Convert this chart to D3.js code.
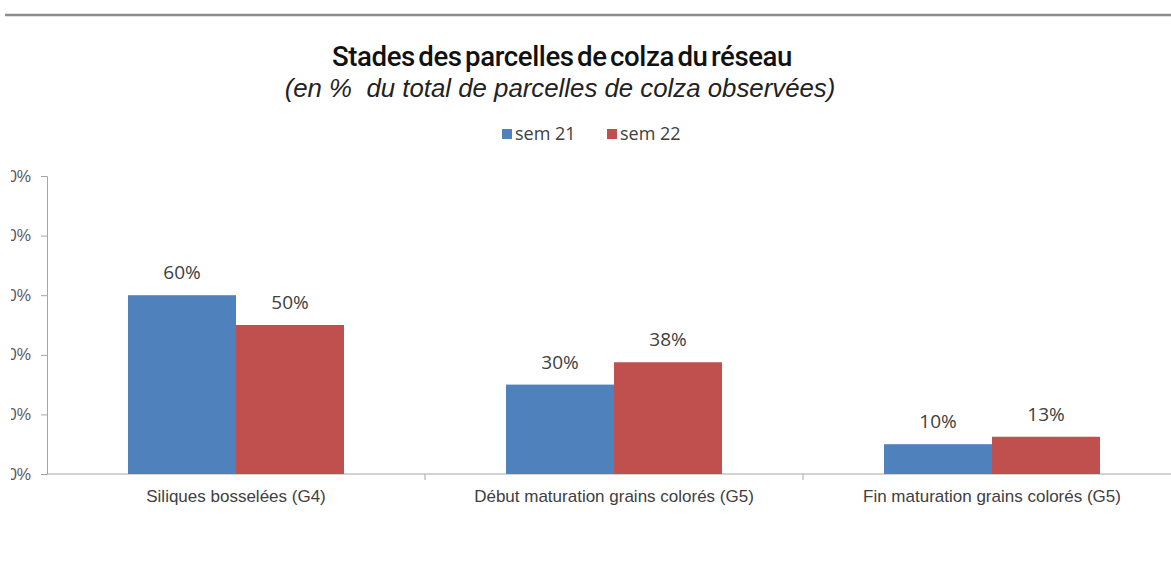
<!DOCTYPE html>
<html>
<head>
<meta charset="utf-8">
<script src="https://cdn.jsdelivr.net/npm/d3@7"></script>
<style>
  body { margin: 0; background: #fff; }
  svg { display: block; }
</style>
</head>
<body>
<div id="chart"></div>
<script>
// data
var categories = ["Siliques bosselées (G4)", "Début maturation grains colorés (G5)", "Fin maturation grains colorés (G5)"];
var seriesNames = ["sem 21", "sem 22"];
var sem21 = [60, 30, 10];
var sem22 = [50, 37.5, 12.5];
var yTicks = [0, 20, 40, 60, 80, 100];
var colors = ["#4F81BD", "#C0504D"];

function main(){
    var canvasWidth = 1171;
    var canvasHeight = 570;

    var svg = d3.select("#chart").append("svg")
        .attr("width", canvasWidth)
        .attr("height", canvasHeight);

    // rule at the top of the page
    svg.append("line")
        .attr("x1", 5).attr("x2", canvasWidth)
        .attr("y1", 15).attr("y2", 15)
        .attr("stroke", "#8c8c8c")
        .attr("stroke-width", 2.5);

    // titles
    svg.append("text")
        .attr("x", 562).attr("y", 66)
        .attr("text-anchor", "middle")
        .attr("font-family", "Roboto")
        .attr("font-weight", 500)
        .attr("font-size", "27.6px")
        .attr("letter-spacing", "-0.4px")
        .attr("word-spacing", "-3px")
        .attr("fill", "#111")
        .text("Stades des parcelles de colza du réseau");

    svg.append("text")
        .attr("x", 560).attr("y", 97)
        .attr("text-anchor", "middle")
        .attr("font-family", "Liberation Sans")
        .attr("font-style", "italic")
        .attr("font-size", "25.8px")
        .attr("fill", "#222")
        .attr("xml:space", "preserve")
        .text("(en %  du total de parcelles de colza observées)");

    var x0 = d3.scaleBand().domain(categories).range([47, 1181])
        .paddingInner(0.4286).paddingOuter(0.2143);
    var x1 = d3.scaleBand().domain(seriesNames).range([0, x0.bandwidth()]);
    var y = d3.scaleLinear().domain([0, 100]).range([474, 176]);

    var rows = categories.map(function(c, i){
        return { cat: c, vals: [sem21[i], sem22[i]] };
    });

    // y axis, labels clipped on the left like the original
    svg.append("clipPath").attr("id", "leftclip")
        .append("rect").attr("x", 11).attr("y", 0).attr("width", canvasWidth).attr("height", canvasHeight);

    var yAxis = svg.append("g")
        .attr("clip-path", "url(#leftclip)")
        .append("g")
        .attr("transform", "translate(47,0)")
        .call(d3.axisLeft(y).tickValues(yTicks).tickSize(6).tickPadding(10)
            .tickFormat(function(d){ return d + "%"; }));
    yAxis.select(".domain").attr("stroke", "#a6a6a6");
    yAxis.selectAll(".tick line").attr("stroke", "#a6a6a6");
    yAxis.selectAll(".tick text")
        .attr("font-family", "Liberation Sans")
        .attr("font-size", "16px")
        .attr("fill", "#595959");

    // x axis
    var xAxis = svg.append("g")
        .attr("transform", "translate(0,474)");
    xAxis.append("line")
        .attr("x1", 47).attr("x2", canvasWidth)
        .attr("stroke", "#a6a6a6");
    xAxis.selectAll(".sep")
        .data(categories.slice(1))
        .enter().append("line")
        .attr("class", "sep")
        .attr("x1", function(d){ return x0(d) - x0.step() * x0.paddingInner() / 2; })
        .attr("x2", function(d){ return x0(d) - x0.step() * x0.paddingInner() / 2; })
        .attr("y1", 0).attr("y2", 6)
        .attr("stroke", "#a6a6a6");
    xAxis.selectAll(".cat")
        .data(categories)
        .enter().append("text")
        .attr("class", "cat")
        .attr("x", function(d){ return x0(d) + x0.bandwidth() / 2; })
        .attr("y", 28)
        .attr("text-anchor", "middle")
        .attr("font-family", "Liberation Sans")
        .attr("font-size", "17px")
        .attr("fill", "#404040")
        .text(function(d){ return d; });

    // bars
    var groups = svg.selectAll(".grp")
        .data(rows)
        .enter().append("g")
        .attr("class", "grp")
        .attr("transform", function(d){ return "translate(" + x0(d.cat) + ",0)"; });

    groups.selectAll("rect")
        .data(function(d){ return d.vals.map(function(v, j){ return { s: seriesNames[j], v: v, j: j }; }); })
        .enter().append("rect")
        .attr("x", function(d){ return x1(d.s); })
        .attr("y", function(d){ return y(d.v); })
        .attr("width", x1.bandwidth())
        .attr("height", function(d){ return y(0) - y(d.v); })
        .attr("fill", function(d){ return colors[d.j]; });

    groups.selectAll(".lbl")
        .data(function(d){ return d.vals.map(function(v, j){ return { s: seriesNames[j], v: v }; }); })
        .enter().append("text")
        .attr("class", "lbl")
        .attr("x", function(d){ return x1(d.s) + x1.bandwidth() / 2; })
        .attr("y", function(d){ return y(d.v) - 16; })
        .attr("text-anchor", "middle")
        .attr("font-family", "Open Sans")
        .attr("font-size", "19px")
        .attr("fill", "#404040")
        .text(function(d){ return Math.round(d.v) + "%"; });

    // legend
    var legendX = [502, 607];
    var legend = svg.selectAll(".leg")
        .data(seriesNames)
        .enter().append("g")
        .attr("class", "leg")
        .attr("transform", function(d, i){ return "translate(" + legendX[i] + ",129)"; });
    legend.append("rect")
        .attr("width", 10).attr("height", 10)
        .attr("fill", function(d, i){ return colors[i]; });
    legend.append("text")
        .attr("x", 13).attr("y", 11)
        .attr("font-family", "Open Sans")
        .attr("font-size", "18px")
        .attr("fill", "#404040")
        .text(function(d){ return d; });
}

main()
</script>
</body>
</html>
